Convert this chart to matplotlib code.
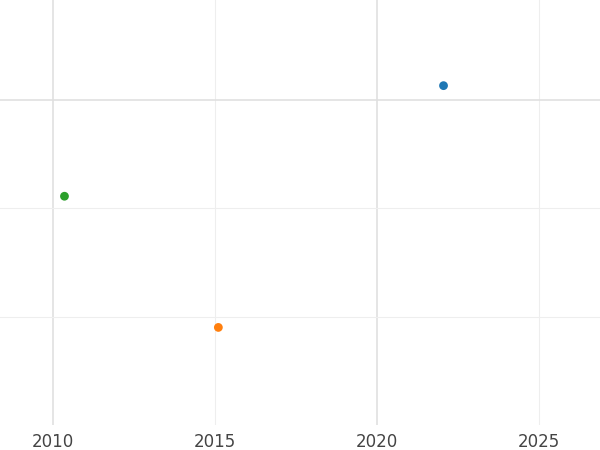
import matplotlib
matplotlib.use("Agg")
import matplotlib.pyplot as plt

years = [2022.05, 2015.1, 2010.35]
values = [3.13, 0.90, 2.11]
colors = ["#1f77b4", "#ff7f0e", "#2ca02c"]
xticks = [2010, 2015, 2020, 2025]

fig = plt.figure(figsize=(6, 4.5), dpi=100)
ax = fig.add_axes([0, 25/450, 1, 425/450])
ax.set_xlim(2008.36, 2026.88)
ax.set_ylim(0, 3.92)
for x in xticks:
    ax.axvline(x, color="#e0e0e0" if x % 10 == 0 else "#eeeeee", lw=1.2 if x % 10 == 0 else 0.8, zorder=0)
for y in [1, 2, 3]:
    ax.axhline(y, color="#e0e0e0" if y == 3 else "#eeeeee", lw=1.2 if y == 3 else 0.8, zorder=0)
ax.scatter(years, values, c=colors, s=40, zorder=3, edgecolors="none")
ax.set_xticks(xticks)
ax.set_xticklabels([str(t) for t in xticks], fontsize=12, color="#444444")
ax.set_yticks([])
ax.tick_params(axis="x", length=0, pad=6)
for s in ax.spines.values():
    s.set_visible(False)
fig.savefig("out.png", dpi=100)
